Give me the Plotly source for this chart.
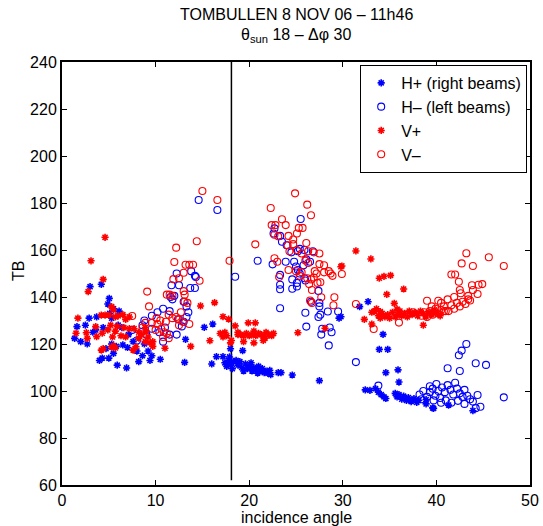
import plotly.graph_objects as go

# ---------------- data ----------------
hp_x = [3.0, 4.2, 5.05, 4.9, 1.35, 1.6, 2.5, 2.9, 3.7, 3.6, 2.7, 4.4, 5.1, 5.5, 5.3, 6.1, 6.4, 6.0, 5.3, 5.8,
        5.5, 5.0, 4.0, 4.3, 5.9, 6.9, 8.2, 6.5, 7.1, 7.6, 8.0, 8.6, 9.4, 2.0, 3.3, 4.7, 7.0, 8.8, 9.2,
        9.6, 10.5, 13.2, 13.1, 15.2, 16.1, 16.0, 16.5, 17.2, 17.4, 17.6, 17.8, 18.0, 18.0, 18.2, 17.9, 18.3, 17.7,
        19.3, 18.6, 18.8, 19.0, 19.2, 19.4, 19.6, 19.8, 20.0, 20.2, 20.3, 20.5, 20.7, 20.9, 21.0, 21.2, 21.4,
        21.6, 21.8, 22.0, 22.2, 22.3, 23.1, 23.4, 24.6, 27.5, 29.8,
        32.7, 31.8, 29.6, 34.3, 33.9, 34.8, 35.9, 34.6, 36.0, 32.4, 32.9, 33.5, 33.8, 34.1, 34.4, 34.6, 35.6,
        35.8, 36.0, 36.3, 36.5, 36.8, 37.0, 37.3, 37.6, 37.9, 38.1, 38.9, 38.9, 39.6, 39.7, 41.3, 43.9]
hp_y = [144.4, 145.4, 139.4, 137, 122.4, 127.4, 128, 131, 131.5, 126, 120, 127, 133, 135, 131, 134, 127, 128, 120, 119,
        116, 114, 113, 114, 111, 109.8, 112.5, 119.6, 124, 121, 117, 115, 113, 121, 125, 118, 118.5, 120, 117,
        115, 113.5, 122, 112.2, 127.1, 128.5, 111.5, 114.6, 114.6, 112, 110.5, 113, 111, 118, 109.5, 114.5, 112.5, 111.5,
        117.2, 113, 111, 112.5, 110, 108.5, 111.5, 109.5, 110.5, 112, 108.5, 110, 109, 107.6, 110.5, 108.5, 109.5,
        107.8, 108.5, 107.5, 108.8, 107, 107.8, 107.8, 106.8, 104.4, 131.6,
        138, 135.9, 131, 124.1, 117.7, 117.7, 109, 107.8, 103.8, 100.5, 100.3, 101, 99.5, 98.5, 97.5, 96.8, 99,
        97.5, 98.5, 96.5, 97.8, 96, 97.2, 95.5, 96.8, 95.2, 96, 96.3, 94.5, 92.8, 92.6, 94, 91.6]

hm_x = [7.5, 8.8, 8.6, 9.6, 10.2, 10.8, 11.5, 9.6, 10.4, 11.0, 11.5, 10.8, 12.25, 11.6, 11.8, 12.0, 12.25, 13.8,
        14.2, 14.3, 11.7, 12.5, 13.7, 14.2, 13.0, 13.3, 13.5, 13.3, 13.0, 14.6, 16.6, 18.5, 12.4, 12.8, 9.0, 8.0,
        25.5, 22.7, 22.6, 23.3, 23.5, 24.0, 20.9, 22.5, 24.5, 25.2, 25.4, 25.9, 26.8, 23.9, 24.8, 25.0, 25.2, 25.4,
        25.8, 26.1, 26.5, 23.3, 24.6, 25.1, 25.9, 26.0, 23.3, 23.3, 24.6, 25.1, 27.4, 23.3, 26.6, 27.5, 27.5, 27.6,
        27.4, 26.0, 28.4, 29.5, 26.1, 27.8, 28.6, 28.8, 27.7, 28.5,
        31.4, 33.8, 38.2, 38.6, 39.0, 39.3, 39.6, 39.9, 40.2, 40.4, 38.4, 39.3, 39.7, 40.0, 40.6, 40.9, 41.2, 41.5,
        41.8, 42.0, 42.2, 42.5, 42.8, 43.0, 43.3, 43.6, 41.0, 41.6, 42.3, 43.0, 43.9, 40.5, 43.2, 42.7, 42.4, 41.2,
        42.5, 44.2, 45.3, 47.2, 44.4, 44.7, 44.2]
hm_y = [126, 130, 128, 132, 133.5, 135, 134, 126.5, 125, 127, 124, 121, 124, 140, 139, 140.5, 150, 151,
        149, 148.5, 145, 145, 143.8, 143.8, 138, 136, 133.5, 131.5, 129.5, 181.3, 177, 148.6, 130.5, 127.5, 124, 121.5,
        173.2, 169.2, 167, 166, 163.5, 162, 155.4, 153.9, 159, 159.5, 160.5, 160, 159.5, 155, 155, 153, 151.5, 150,
        153.5, 156, 155, 149.4, 147.5, 146, 148, 147, 145.2, 143.3, 143.5, 144.5, 142.6, 135.2, 138, 137.5, 136, 132.5,
        131.5, 133.3, 133.8, 133.8, 127.4, 126.5, 127, 125, 124, 119.4,
        112.3, 102.3, 98.5, 100, 97.5, 99.5, 101, 98, 100, 97, 96.5, 102, 96, 103, 101.5, 99.5, 102.5, 100.5,
        98.5, 103.5, 101, 99, 97.5, 100.5, 98, 96.5, 96, 95, 95.8, 94.5, 95.5, 95, 120, 117.2, 115.2, 109.7,
        108.5, 111.8, 111.1, 97.3, 98.3, 93.3, 92.7]

vp_x = [4.6, 3.1, 4.4, 2.8, 1.7, 1.5, 2.6, 2.7, 3.6, 3.7, 4.3, 4.2, 4.6, 5.0, 5.3, 5.5, 5.7, 6.0, 6.5, 6.8,
        7.2, 5.2, 5.9, 6.6, 7.2, 4.9, 5.7, 5.4, 6.3, 6.8, 4.2, 4.4, 5.3, 5.5, 5.7, 7.6, 7.9, 8.2, 8.5, 8.9,
        9.2, 9.4, 7.7, 8.2, 8.9, 9.0, 9.7, 9.7, 11.0, 13.75, 14.8, 16.3, 17.2, 17.8, 18.5, 18.8, 16.9, 17.2,
        17.4, 17.6, 15.8, 18.0, 18.1,
        19.9, 20.65, 18.8, 19.1, 19.4, 19.7, 20.0, 20.3, 20.5, 20.7, 21.0, 21.3, 21.5, 21.8, 22.1, 22.4, 22.6,
        19.4, 20.5, 21.5, 21.7, 25.2, 28.1, 29.8,
        31.4, 33.0, 29.9, 33.9, 34.4, 35.1, 34.7, 36.5, 35.5, 33.1, 33.4, 33.6, 32.3, 33.1, 33.8, 34.0, 34.2,
        34.5, 34.8, 35.0, 35.3, 35.6, 35.9, 36.1, 36.3, 36.6, 36.9, 37.1, 37.4, 37.7, 38.0, 38.3, 38.6, 38.9,
        39.2, 39.5, 39.8, 40.1, 40.4, 38.6, 34.0, 35.8]
vp_y = [165.4, 155.4, 147.5, 142.3, 131, 124.6, 124.8, 122.4, 127.4, 123.1, 124.6, 132.3, 132.3, 132.3, 135.9,
        134.5, 131.5, 132, 132.5, 130.5, 131.5, 128, 127.5, 127, 126.5, 126, 125.5, 123, 123.5, 123, 117.4, 118,
        118.7, 119.2, 118.3, 117.4, 118.8, 122.5, 124, 121, 123, 120.5, 126.5, 125, 127, 125.5, 121, 119, 118.2,
        119, 136.2, 137.6, 131.6, 130.6, 127.7, 124, 124.5, 123, 125, 123.5, 121.4, 120.5, 121.5,
        129, 129, 125, 124, 123.5, 124.5, 123.5, 124, 125.5, 123.5, 124.5, 124, 123, 125, 124, 123.5, 124.5,
        121, 120.5, 121.5, 122.5, 124.8, 126.7, 152.9,
        159.6, 156.2, 153.2, 148, 148.8, 149.2, 141.1, 143.4, 137.3, 133.5, 134, 135, 130.5, 128.5, 132, 131, 133,
        131.5, 132.5, 131, 133.5, 131.5, 132.5, 134, 132, 133, 131.5, 134, 132.5, 133.5, 132, 134, 133, 131.5,
        133.5, 132.5, 134.5, 133, 132, 128, 133.8, 134.8]

vm_x = [9.1, 7.5, 9.3, 15.0, 16.6, 14.4, 12.2, 12.0, 13.2, 13.6, 14.0, 13.0, 12.5, 11.9, 14.7, 17.9, 11.2, 11.5,
        11.8, 13.0, 13.1, 13.1, 13.4, 10.1, 10.5, 11.1, 11.4, 11.8, 12.2, 12.5, 12.9, 9.6, 10.2, 10.0, 10.6, 10.9,
        11.2, 11.4, 10.8, 13.6, 12.5, 12.7, 8.6, 8.9,
        24.9, 26.2, 22.3, 26.6, 23.5, 22.4, 22.8, 23.9, 25.3, 25.7, 20.65, 22.7, 23.1, 24.2, 24.7, 25.1, 26.1, 24.1,
        24.7, 24.3, 25.1, 25.6, 26.3, 26.9, 27.5, 22.7, 23.0, 26.0, 26.3, 27.5, 28.0, 24.2, 25.0, 25.6, 25.4, 27.0,
        27.2, 28.0, 28.5, 28.7, 28.9, 23.2, 26.2, 26.6, 26.9, 26.4, 27.3, 27.6, 26.7, 27.7, 29.1, 29.0, 26.5, 26.7,
        31.4, 33.3, 36.0, 39.0, 40.2, 29.9, 38.4, 38.7, 39.0, 39.3, 39.6, 39.9, 40.2, 40.5, 40.8, 41.0, 41.3, 41.6,
        41.9, 42.2, 42.5, 42.8, 43.1, 43.4, 43.6, 39.5, 40.5, 41.2, 41.9, 42.6, 43.4, 43.2, 45.6, 42.7, 43.9, 47.2,
        41.6, 42.0, 42.4, 43.8, 44.5, 44.9, 42.5, 43.9, 44.4, 40.8, 37.5, 36.8]
vm_y = [142.3, 131.9, 136, 185.1, 181.3, 163.7, 161, 154.9, 153.7, 153.7, 153.7, 150.3, 148, 147.6, 146.9, 155.4,
        141, 141, 140.5, 142.5, 141, 138, 137.5, 131, 130, 129.5, 132.5, 131, 131.5, 130.5, 129.5, 129, 128.5, 126,
        126.5, 125, 124.5, 122.5, 123, 128.5, 128, 133.5, 127, 129,
        184.1, 179.3, 177.9, 174.8, 173.1, 170.6, 170.6, 170.6, 169.4, 169.4, 162.4, 166.5, 165.8, 166, 164.5, 167,
        163, 162, 162.5, 159.5, 160, 158.5, 159.5, 159, 158.5, 156.5, 155, 155.5, 154.5, 154, 153.5, 151.5, 151,
        150.5, 149, 151, 150, 150.5, 151, 150, 149, 148.5, 148, 147.5, 148.3, 145.5, 146, 146.3, 143, 139.9, 139.9,
        136.5, 138.5, 137.5,
        137, 126.4, 129.1, 138.4, 138.4, 149.8, 132, 133.5, 131.5, 134, 132.5, 135, 133, 134.5, 136, 134, 134, 136.5,
        135, 137.5, 136, 138, 137, 139, 138.5, 136, 137.5, 139, 140, 141.6, 140.5, 158.6, 156.9, 154.3, 153.2, 153.2,
        149.6, 149.6, 146.5, 145, 145.2, 145.5, 143, 143, 141.3, 134, 133.5, 132.5]

sun_angle = 18.1
sun_line_y = [62, 240]
x_ticks = [0, 10, 20, 30, 40, 50]
y_ticks = [60, 80, 100, 120, 140, 160, 180, 200, 220, 240]

title_line1 = "TOMBULLEN 8 NOV 06 – 11h46"
title_line2 = "θ<sub>sun</sub> 18 – Δφ 30"
x_label = "incidence angle"
y_label = "TB"

BLUE = "rgb(0,0,255)"
RED = "rgb(255,0,0)"

fig = go.Figure()

fig.add_trace(go.Scatter(x=[sun_angle, sun_angle], y=sun_line_y, mode="lines",
                         line=dict(color="black", width=1.5), showlegend=False, hoverinfo="skip"))

def star(x, y, color, name):
    return go.Scatter(x=x, y=y, mode="markers", name=name,
                      marker=dict(symbol="asterisk-open", size=6, color=color,
                                  line=dict(color=color, width=1.6)))

def circ(x, y, color, name):
    return go.Scatter(x=x, y=y, mode="markers", name=name,
                      marker=dict(symbol="circle-open", size=7, color=color,
                                  line=dict(color=color, width=1.1)))

fig.add_trace(star(hp_x, hp_y, BLUE, "H+ (right beams)"))
fig.add_trace(circ(hm_x, hm_y, BLUE, "H– (left beams)"))
fig.add_trace(star(vp_x, vp_y, RED, "V+"))
fig.add_trace(circ(vm_x, vm_y, RED, "V–"))

FONT = "Liberation Sans, Arial, Helvetica, sans-serif"

axis_common = dict(showgrid=False, zeroline=False, showline=True, linecolor="black", linewidth=2,
                   mirror="ticks", ticks="inside", ticklen=5, tickwidth=1, tickcolor="black",
                   automargin=False,
                   tickfont=dict(family=FONT, size=16, color="black"))

PLOT_TOP, PLOT_H = 62, 423

def ypix(py):
    return 1 + (PLOT_TOP - py) / PLOT_H

annotations = [
    dict(text=title_line1, x=0.5, y=ypix(14), xref="paper", yref="paper",
         xanchor="center", yanchor="middle", showarrow=False,
         font=dict(family=FONT, size=16, color="black")),
    dict(text=title_line2, x=0.5, y=ypix(35), xref="paper", yref="paper",
         xanchor="center", yanchor="middle", showarrow=False,
         font=dict(family=FONT, size=16, color="black")),
    dict(text=x_label, x=0.5, y=ypix(517), xref="paper", yref="paper",
         xanchor="center", yanchor="middle", showarrow=False,
         font=dict(family=FONT, size=16, color="black")),
    dict(text=y_label, x=(18 - 62) / 468, y=ypix(271), xref="paper", yref="paper",
         xanchor="center", yanchor="middle", showarrow=False, textangle=-90,
         font=dict(family=FONT, size=16, color="black")),
]

fig.update_layout(
    width=543, height=526,
    margin=dict(l=62, r=13, t=62, b=41),
    paper_bgcolor="white", plot_bgcolor="white",
    font=dict(family=FONT, size=16, color="black"),
    xaxis=dict(range=[0, 50], tickvals=x_ticks, **axis_common),
    yaxis=dict(range=[60, 240], tickvals=y_ticks, **axis_common),
    legend=dict(x=0.994, y=0.993, xanchor="right", yanchor="top",
                bgcolor="white", bordercolor="black", borderwidth=1, itemwidth=30,
                font=dict(family=FONT, size=16), tracegroupgap=0, itemsizing="trace"),
    annotations=annotations,
    showlegend=True,
)

fig.write_html("out.html")
